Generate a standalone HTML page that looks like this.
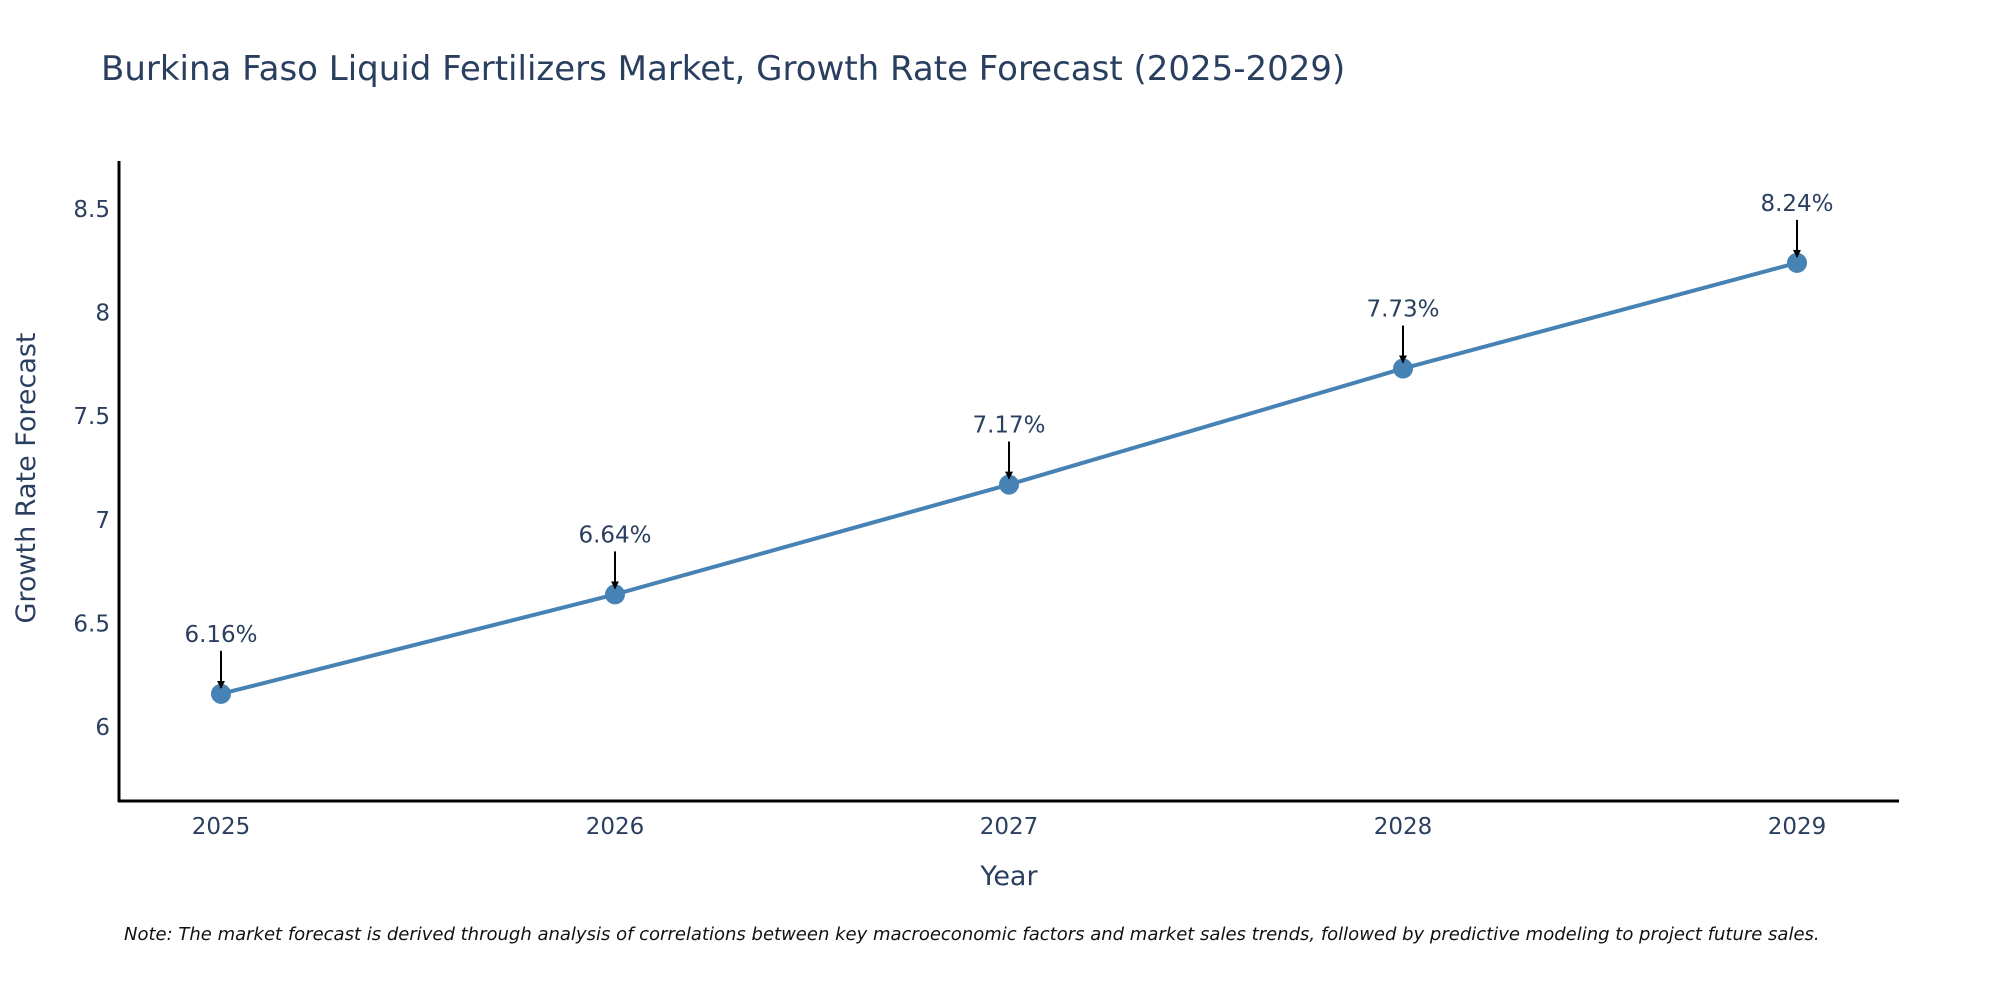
<!DOCTYPE html>
<html><head><meta charset="utf-8"><style>
body{margin:0;background:#fff;}
svg{display:block;font-family:"DejaVu Sans","Liberation Sans",sans-serif;}
</style></head><body>
<svg width="2000" height="1000" viewBox="0 0 2000 1000">
<defs><marker id="ah" markerWidth="8" markerHeight="8" refX="7" refY="4" orient="auto" markerUnits="userSpaceOnUse"><path d="M0,0 L8,4 L0,8 z" fill="#000"/></marker></defs>
<text x="101" y="80" font-size="34" fill="#2a3f5f">Burkina Faso Liquid Fertilizers Market, Growth Rate Forecast (2025-2029)</text>
<g id="yticks"></g><g id="xticks"></g>
<line x1="119" y1="161" x2="119" y2="802" stroke="#000" stroke-width="3"/>
<line x1="118" y1="801" x2="1899" y2="801" stroke="#000" stroke-width="3"/>
<g id="series"></g>
<text x="1009" y="885" font-size="27" fill="#2a3f5f" text-anchor="middle">Year</text>
<text transform="translate(35,478) rotate(-90)" font-size="27" fill="#2a3f5f" text-anchor="middle">Growth Rate Forecast</text>
<text x="124" y="940" font-size="18" font-style="italic" fill="#111">Note: The market forecast is derived through analysis of correlations between key macroeconomic factors and market sales trends, followed by predictive modeling to project future sales.</text>
</svg>
<script>
const years=["2025","2026","2027","2028","2029"];
const values=[6.16,6.64,7.17,7.73,8.24];
const yTicks=[6,6.5,7,7.5,8,8.5];
const yTickLabels=["6","6.5","7","7.5","8","8.5"];
const NS="http://www.w3.org/2000/svg";
function xs(i){return 221+i*394;}
function ys(v){return 727-(v-6)*207.2;}
function mk(t,a,p){const e=document.createElementNS(NS,t);for(const k in a)e.setAttribute(k,a[k]);p.appendChild(e);return e;}
const yt=document.getElementById('yticks');
yTicks.forEach((v,i)=>{const t=mk('text',{x:110,y:ys(v)+8,'font-size':23,fill:'#2a3f5f','text-anchor':'end'},yt);t.textContent=yTickLabels[i];

});
const xt=document.getElementById('xticks');
years.forEach((y,i)=>{const t=mk('text',{x:xs(i),y:834,'font-size':23,fill:'#2a3f5f','text-anchor':'middle'},xt);t.textContent=y;

});
const s=document.getElementById('series');
const pl=mk('polyline',{points:values.map((v,i)=>xs(i)+','+ys(v)).join(' '),fill:'none',stroke:'#4682b4','stroke-width':4},s);


values.forEach((v,i)=>{
const c=mk('circle',{cx:xs(i),cy:ys(v),r:10,fill:'#4682b4'},s);


const a=mk('line',{x1:xs(i),y1:ys(v)-43,x2:xs(i),y2:ys(v)-6,stroke:'#000','stroke-width':2,'marker-end':'url(#ah)'},s);


const t=mk('text',{x:xs(i),y:ys(v)-52,'font-size':23,fill:'#2a3f5f','text-anchor':'middle'},s);
t.textContent=v.toFixed(2)+'%';


});
</script>
</body></html>
